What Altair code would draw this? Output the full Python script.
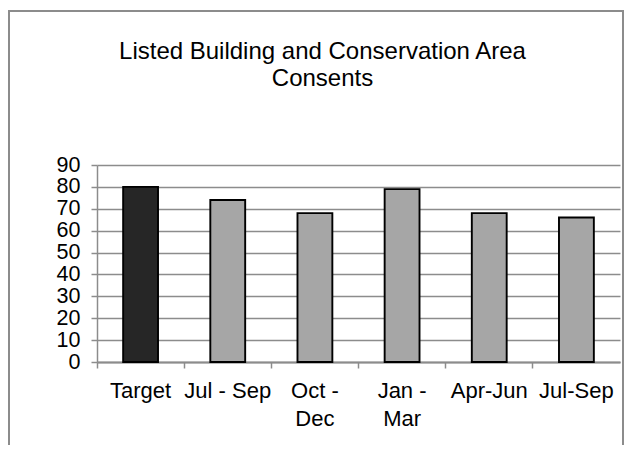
import altair as alt
import pandas as pd

categories = ["Target", "Jul - Sep", "Oct - Dec", "Jan - Mar", "Apr-Jun", "Jul-Sep"]
values = [80, 74, 68, 79, 68, 66]
kinds = ["target", "actual", "actual", "actual", "actual", "actual"]
wrapped = {"Oct - Dec": ["Oct -", "Dec"], "Jan - Mar": ["Jan -", "Mar"]}
y_ticks = list(range(0, 100, 10))

df = pd.DataFrame({"period": categories, "value": values, "kind": kinds})

W, H = 523, 197
FONT = "Liberation Sans"
GRID = "#8c8c8c"

label_expr = "datum.label"
for k, v in wrapped.items():
    label_expr = f"datum.label == '{k}' ? ['{v[0]}', '{v[1]}'] : (" + label_expr + ")"

bars = alt.Chart(df).mark_bar(
    stroke="black", strokeWidth=1.9, width=alt.RelativeBandSize(0.4)
).encode(
    x=alt.X(
        "period:N",
        sort=categories,
        scale=alt.Scale(paddingInner=0, paddingOuter=0),
        axis=alt.Axis(
            title=None,
            labelAngle=0,
            bandPosition=0,
            labelExpr=label_expr,
            labelFont=FONT,
            labelFontSize=22,
            labelColor="black",
            labelLineHeight=28,
            labelPadding=12,
            labelBaseline="top",
            tickColor=GRID,
            tickSize=6,
            tickWidth=1.5,
            domainColor=GRID,
            domainWidth=2,
            grid=False,
        ),
    ),
    y=alt.Y(
        "value:Q",
        scale=alt.Scale(domain=[0, 90]),
        axis=alt.Axis(
            title=None,
            values=y_ticks,
            labelFont=FONT,
            labelFontSize=21.5,
            labelColor="black",
            labelPadding=11,
            tickColor=GRID,
            tickSize=6,
            tickWidth=1.5,
            domainColor=GRID,
            domainWidth=1.5,
            gridColor=GRID,
            gridWidth=1.5,
        ),
    ),
    color=alt.Color(
        "kind:N",
        scale=alt.Scale(domain=["target", "actual"], range=["#262626", "#a6a6a6"]),
        legend=None,
    ),
)

frame = alt.Chart(df).mark_rect(fill=None, stroke=GRID, strokeWidth=1.5, clip=False).encode(
    x=alt.value(-88), x2=alt.value(W + 3), y=alt.value(-154), y2=alt.value(H + 100)
)

chart = alt.layer(frame, bars).properties(
    width=W,
    height=H,
    autosize=alt.AutoSizeParams(type="none"),
    padding={"left": 89, "top": 157, "right": 4, "bottom": 83},
    title=alt.TitleParams(
        text=["Listed Building and Conservation Area", "Consents"],
        font=FONT,
        fontSize=24,
        fontWeight="normal",
        color="black",
        anchor="middle",
        baseline="alphabetic",
        dx=-36,
        dy=100,
        offset=0,
        lineHeight=27,
    ),
).configure_view(stroke=None)

chart.save("out.html", embed_options={"renderer": "svg", "actions": False})
